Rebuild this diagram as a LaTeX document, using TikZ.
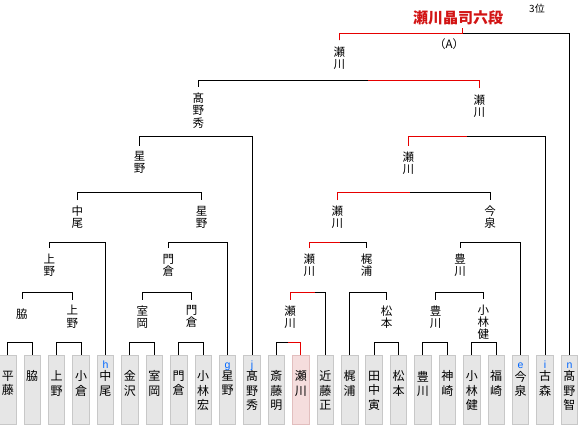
\documentclass[tikz,border=0pt]{standalone}
\usepackage{fontspec}
\newfontfamily\jp{Noto Sans CJK JP}
\newfontfamily\lat{Liberation Sans}
\definecolor{boxfill}{RGB}{230,230,230}
\definecolor{boxline}{RGB}{200,200,200}
\definecolor{pinkfill}{RGB}{245,221,221}
\definecolor{pinkline}{RGB}{226,190,190}
\definecolor{tagblue}{RGB}{0,102,255}
\definecolor{win}{RGB}{230,0,0}
\definecolor{champred}{RGB}{210,20,20}
\newcommand\bout[3]{\draw (#1.north) -- (#1.north |- 0,#3) -| (#2.north);}
\begin{document}
\begin{tikzpicture}[x=1pt,y=-1pt,line width=1pt,
  box/.style={draw=boxline,fill=boxfill,line width=0.8pt,minimum width=16.5pt,minimum height=69pt,inner sep=0pt,outer sep=0pt},
  pinkbox/.style={box,draw=pinkline,fill=pinkfill},
  bname/.style={anchor=north,inner sep=0pt,align=center,font=\jp\fontsize{12}{14.5}\selectfont},
  lab/.style={anchor=north,inner sep=0pt,outer xsep=0pt,outer ysep=6pt,align=center,font=\jp\fontsize{11.5}{12.3}\selectfont},
  tag/.style={anchor=base,inner sep=0pt,text=tagblue,font=\lat\fontsize{10.5}{12}\selectfont},
  win/.style={draw=win}]
\useasboundingbox (0,0) rectangle (580,425);
% entry boxes
\node[box] (b0) at (7.8+24.42*0,389.5) {};
\node[box] (b1) at (7.8+24.42*1,389.5) {};
\node[box] (b2) at (7.8+24.42*2,389.5) {};
\node[box] (b3) at (7.8+24.42*3,389.5) {};
\node[box] (b4) at (7.8+24.42*4,389.5) {};
\node[box] (b5) at (7.8+24.42*5,389.5) {};
\node[box] (b6) at (7.8+24.42*6,389.5) {};
\node[box] (b7) at (7.8+24.42*7,389.5) {};
\node[box] (b8) at (7.8+24.42*8,389.5) {};
\node[box] (b9) at (7.8+24.42*9,389.5) {};
\node[box] (b10) at (7.8+24.42*10,389.5) {};
\node[box] (b11) at (7.8+24.42*11,389.5) {};
\node[pinkbox] (b12) at (7.8+24.42*12,389.5) {};
\node[box] (b13) at (7.8+24.42*13,389.5) {};
\node[box] (b14) at (7.8+24.42*14,389.5) {};
\node[box] (b15) at (7.8+24.42*15,389.5) {};
\node[box] (b16) at (7.8+24.42*16,389.5) {};
\node[box] (b17) at (7.8+24.42*17,389.5) {};
\node[box] (b18) at (7.8+24.42*18,389.5) {};
\node[box] (b19) at (7.8+24.42*19,389.5) {};
\node[box] (b20) at (7.8+24.42*20,389.5) {};
\node[box] (b21) at (7.8+24.42*21,389.5) {};
\node[box] (b22) at (7.8+24.42*22,389.5) {};
\node[box] (b23) at (7.8+24.42*23,389.5) {};
% names in boxes
\node[bname] (t0) at ([yshift=-15.4pt]b0.north) {平\\藤};
\node[bname] (t1) at ([yshift=-15.4pt]b1.north) {脇};
\node[bname] (t2) at ([yshift=-15.4pt]b2.north) {上\\野};
\node[bname] (t3) at ([yshift=-15.4pt]b3.north) {小\\倉};
\node[bname] (t4) at ([yshift=-15.4pt]b4.north) {中\\尾};
\node[bname] (t5) at ([yshift=-15.4pt]b5.north) {金\\沢};
\node[bname] (t6) at ([yshift=-15.4pt]b6.north) {室\\岡};
\node[bname] (t7) at ([yshift=-15.4pt]b7.north) {門\\倉};
\node[bname] (t8) at ([yshift=-15.4pt]b8.north) {小\\林\\宏};
\node[bname] (t9) at ([yshift=-15.4pt]b9.north) {星\\野};
\node[bname] (t10) at ([yshift=-15.4pt]b10.north) {髙\\野\\秀};
\node[bname] (t11) at ([yshift=-15.4pt]b11.north) {斎\\藤\\明};
\node[bname] (t12) at ([yshift=-15.4pt]b12.north) {瀬\\川};
\node[bname] (t13) at ([yshift=-15.4pt]b13.north) {近\\藤\\正};
\node[bname] (t14) at ([yshift=-15.4pt]b14.north) {梶\\浦};
\node[bname] (t15) at ([yshift=-15.4pt]b15.north) {田\\中\\寅};
\node[bname] (t16) at ([yshift=-15.4pt]b16.north) {松\\本};
\node[bname] (t17) at ([yshift=-15.4pt]b17.north) {豊\\川};
\node[bname] (t18) at ([yshift=-15.4pt]b18.north) {神\\崎};
\node[bname] (t19) at ([yshift=-15.4pt]b19.north) {小\\林\\健};
\node[bname] (t20) at ([yshift=-15.4pt]b20.north) {福\\崎};
\node[bname] (t21) at ([yshift=-15.4pt]b21.north) {今\\泉};
\node[bname] (t22) at ([yshift=-15.4pt]b22.north) {古\\森};
\node[bname] (t23) at ([yshift=-15.4pt]b23.north) {髙\\野\\智};
% seed letters
\node[tag] (g4) at ([yshift=-13.5pt]b4.north) {h};
\node[tag] (g9) at ([yshift=-13.5pt]b9.north) {g};
\node[tag] (g10) at ([yshift=-13.5pt]b10.north) {j};
\node[tag] (g21) at ([yshift=-13.5pt]b21.north) {e};
\node[tag] (g22) at ([yshift=-13.5pt]b22.north) {i};
\node[tag] (g23) at ([yshift=-13.5pt]b23.north) {n};
% round winners
\node[lab,anchor=center,outer ysep=10pt] (r2a) at (22,314) {脇};
\node[lab] (r2b) at (72.3,299.5) {上\\野};
\node[lab] (r2c) at (142.3,299.5) {室\\岡};
\node[lab] (r2d) at (191.7,299.5) {門\\倉};
\node[lab] (r2e) at (290,299.5) {瀬\\川};
\node[lab] (r2f) at (386.7,299.5) {松\\本};
\node[lab] (r2g) at (435.7,299.5) {豊\\川};
\node[lab] (r2h) at (483.3,298.5) {小\\林\\健};
\node[lab] (r3a) at (49.3,248) {上\\野};
\node[lab] (r3b) at (168.3,248) {門\\倉};
\node[lab] (r3c) at (309.3,248) {瀬\\川};
\node[lab] (r3d) at (366.7,248) {梶\\浦};
\node[lab] (r3e) at (460,248) {豊\\川};
\node[lab] (r4a) at (77.3,200) {中\\尾};
\node[lab] (r4b) at (201.7,200) {星\\野};
\node[lab] (r4c) at (337.3,200) {瀬\\川};
\node[lab] (r4d) at (490,200) {今\\泉};
\node[lab] (r5a) at (139.5,145.5) {星\\野};
\node[lab] (r5b) at (408.3,145.5) {瀬\\川};
\node[lab] (r6a) at (198.3,87) {髙\\野\\秀};
\node[lab] (r6b) at (479.3,88.5) {瀬\\川};
\node[lab] (r7) at (339.3,40.5) {瀬\\川};
\node[inner sep=0pt,outer ysep=3pt,text=champred,font=\jp\bfseries\fontsize{15}{16}\selectfont] (champ) at (458,17.5) {瀬川晶司六段};
\node[inner sep=0pt,font=\jp\fontsize{11.5}{12}\selectfont] (note) at (449,44.5) {（A）};
\node[inner sep=0pt,font=\jp\fontsize{10}{11}\selectfont] (third) at (537,9) {3位};
% round 1
\bout{b0}{b1}{342.5}
\bout{b2}{b3}{342.5}
\bout{b5}{b6}{342.5}
\bout{b7}{b8}{342.5}
\bout{b11}{b12}{342.5}
\bout{b15}{b16}{342.5}
\bout{b17}{b18}{342.5}
\bout{b19}{b20}{342.5}
% round 2
\bout{r2a}{r2b}{292}
\bout{r2c}{r2d}{292}
\bout{r2e}{b13}{292}
\bout{b14}{r2f}{292}
\bout{r2g}{r2h}{292}
% round 3
\bout{r3a}{b4}{242.5}
\bout{r3b}{b9}{242.5}
\bout{r3c}{r3d}{242.5}
\bout{r3e}{b21}{242.5}
% round 4
\bout{r4a}{r4b}{192.5}
\bout{r4c}{r4d}{192.5}
% round 5
\bout{r5a}{b10}{136.5}
\bout{r5b}{b22}{136.5}
% round 6
\bout{r6a}{r6b}{80.5}
% final
\bout{r7}{b23}{34}
% winning path
\coordinate (s1) at (288.3,342.5);
\coordinate (s2) at (315,292);
\coordinate (s3) at (340,242.5);
\coordinate (s4) at (410,192.5);
\coordinate (s5) at (467.3,136.5);
\coordinate (s6) at (368.3,80.5);
\coordinate (s7) at (462.3,34);
\draw[win] (b12.north) |- (s1);
\draw[win] (r2e.north) |- (s2);
\draw[win] (r3c.north) |- (s3);
\draw[win] (r4c.north) |- (s4);
\draw[win] (r5b.north) |- (s5);
\draw[win] (r6b.north) |- (s6);
\draw[win] (r7.north) |- (s7) -- (champ.south -| s7);
\end{tikzpicture}
\end{document}
